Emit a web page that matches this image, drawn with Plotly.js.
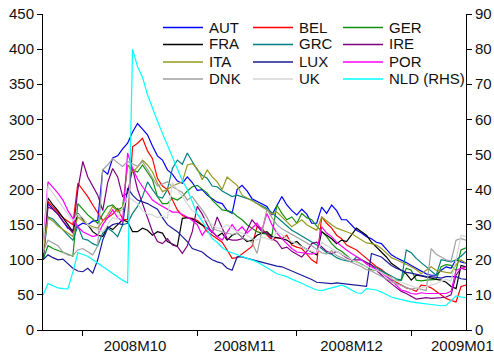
<!DOCTYPE html>
<html>
<head>
<meta charset="utf-8">
<script src="https://cdn.plot.ly/plotly-3.0.1.min.js"></script>
<style>
  html, body { margin: 0; padding: 0; background: #ffffff; }
  #chart { width: 494px; height: 360px; }
</style>
</head>
<body>
<div id="chart"></div>
<script>
// Business-day observations, 19 Sep 2008 to 16 Jan 2009
const dates = [
  "2008-09-19","2008-09-22","2008-09-23","2008-09-24","2008-09-25","2008-09-26","2008-09-29","2008-09-30",
  "2008-10-01","2008-10-02","2008-10-03","2008-10-06","2008-10-07","2008-10-08","2008-10-09","2008-10-10",
  "2008-10-13","2008-10-14","2008-10-15","2008-10-16","2008-10-17","2008-10-20","2008-10-21","2008-10-22",
  "2008-10-23","2008-10-24","2008-10-27","2008-10-28","2008-10-29","2008-10-30","2008-10-31",
  "2008-11-03","2008-11-04","2008-11-05","2008-11-06","2008-11-07","2008-11-10","2008-11-11","2008-11-12",
  "2008-11-13","2008-11-14","2008-11-17","2008-11-18","2008-11-19","2008-11-20","2008-11-21","2008-11-24",
  "2008-11-25","2008-11-26","2008-11-27","2008-11-28",
  "2008-12-01","2008-12-02","2008-12-03","2008-12-04","2008-12-05","2008-12-08","2008-12-09","2008-12-10",
  "2008-12-11","2008-12-12","2008-12-15","2008-12-16","2008-12-17","2008-12-18","2008-12-19","2008-12-22",
  "2008-12-23","2008-12-24","2008-12-25","2008-12-26","2008-12-29","2008-12-30","2008-12-31",
  "2009-01-01","2009-01-02","2009-01-05","2009-01-06","2009-01-07","2009-01-08","2009-01-09","2009-01-12",
  "2009-01-13","2009-01-14","2009-01-15","2009-01-16"
];

// Left-hand scale series
const AUT = [105,180,172,165,155,145,142,148,152,150, 155,156,228,222,245,248,258,266,282,294,
  286,278,262,248,242,228,222,212,209,218, 210,199,200,192,187,182,180,170,166,200,
  206,198,187,183,180,176,164,176,190,178, 170,164,172,165,152,152,175,166,178,170,
  157,157,150,142,138,133,130,125,123,115, 107,103,100,96,92,88,85,80,78,78, 85,90,88,100,97,95];
const BEL = [100,183,175,167,160,155,150,209,200,190, 178,166,156,160,165,173,158,157,261,266,
  273,255,244,216,205,200,185,171,163,160, 159,156,150,140,135,130,125,114,102,103,
  108,113,119,147,145,135,128,132,130,135, 121,118,116,108,100,95,161,152,145,135,
  130,121,117,114,108,102,96,90,86,80, 74,68,64,60,58,55,64,63,60,55, 50,45,42,40,62,64];
const GER = [100,120,116,113,110,107,105,180,172,164, 158,152,165,176,178,171,175,235,228,225,
  235,225,214,190,180,180,188,185,190,198, 204,206,200,195,185,178,171,170,168,162,
  157,150,145,140,138,137,135,178,166,157, 161,152,166,160,157,148,140,133,123,116,
  112,106,100,97,94,90,86,85,84,78, 71,71,71,88,85,71,70,71,71,72, 90,93,92,85,114,117];
const FRA = [110,188,178,170,160,150,140,166,158,150, 140,135,133,147,143,150,157,154,140,140,
  145,142,135,140,138,126,122,119,159,160, 158,154,150,145,140,133,138,128,135,138,
  132,126,128,135,138,140,133,132,130,128, 123,126,119,115,111,107,140,135,130,123,
  128,126,135,145,140,135,125,118,112,104, 95,90,86,80,71,78,77,76,74,72, 71,68,62,59,92,90];
const GRC = [100,161,158,150,143,135,128,148,130,128, 123,120,138,145,140,133,150,152,166,176,
  190,211,200,190,188,200,230,242,236,252, 240,228,220,216,205,204,198,194,190,192,
  190,187,185,180,177,173,167,161,155,148, 142,138,134,130,126,121,116,110,108,103,
  100,99,97,104,100,97,93,88,85,80, 76,73,71,114,110,102,96,90,84,78, 100,98,97,100,105,112];
const IRE = [100,175,172,165,155,146,138,200,240,218, 205,192,170,210,230,218,190,195,230,200,
  180,160,140,126,123,130,121,119,109,120, 140,176,165,150,138,161,145,130,128,128,
  130,142,157,148,140,138,130,126,116,118, 112,108,104,112,123,125,118,112,109,112,
  108,103,100,100,100,96,93,85,78,72, 66,60,55,52,48,44,45,46,45,45, 46,47,50,78,88,86];
const ITA = [110,160,155,148,143,138,133,161,155,150, 147,145,155,164,176,168,172,235,225,232,
  242,235,225,209,197,200,205,208,211,235, 237,230,214,228,218,211,200,218,212,206,
  192,188,185,180,175,171,165,168,161,154, 147,152,157,150,146,142,161,155,150,145,
  143,140,137,133,128,124,123,121,116,110, 103,100,97,93,90,86,80,85,90,85, 83,82,81,93,100,95];
const LUX = [100,107,103,100,101,95,88,84,83,88, 81,100,128,145,150,152,150,202,192,185,
  183,180,176,172,160,150,145,140,133,126, 116,113,111,105,100,97,95,88,85,104,
  104,102,100,98,96,94,93,91,90,87, 84,81,78,76,72,68,67,66,66,67,
  66,65,64,64,63,62,109,106,104,98, 92,88,85,82,81,79,77,76,76,75, 74,76,76,76,73,72];
const POR = [120,211,203,195,185,170,159,147,140,136, 133,135,150,160,171,160,155,252,230,215,
  204,195,185,180,176,172,168,168,165,161, 156,150,135,145,140,133,128,140,150,140,
  147,138,145,152,142,166,150,138,130,123, 116,111,110,108,108,110,147,138,133,125,
  119,114,109,105,100,94,90,86,82,76, 71,64,57,55,52,51,53,52,52,52, 53,52,55,85,88,90];
const DNK = [110,128,124,120,111,107,106,114,116,112, 107,120,228,235,244,238,233,240,236,233,
  240,228,216,205,208,211,204,200,196,185, 190,180,171,160,145,142,140,138,136,138,
  132,128,125,109,142,172,160,150,144,140, 136,133,129,125,120,115,110,108,113,106,
  103,100,97,93,90,86,84,80,76,72, 69,66,63,60,58,60,58,56,116,108, 104,100,98,128,130,128];
const UK = [115,205,195,185,175,165,155,165,160,150, 145,142,140,150,160,158,175,190,185,180,
  170,165,164,160,162,159,210,200,190,180, 170,165,160,156,150,145,145,150,145,140,
  138,135,130,128,132,130,128,140,136,130, 126,122,118,115,112,110,125,120,116,112,
  108,104,100,96,93,90,88,85,82,78, 74,70,68,65,62,60,60,62,64,66, 70,72,70,100,135,133];
// Right-hand scale series
const NLD = [10,13.2,12.6,12,11.8,11.7,16.5,22,21.5,21, 20,19,18,17,16,15,14.2,13.4,80,75,
  72,67,63,59.5,56,52.5,49.5,46,42.5,40, 36.5,33,31,28.5,26,25,23.5,22.5,22,21.5,
  21,20.5,20,19.4,18.6,17.7,16.8,16,15.6,15.2, 14.5,14,13.3,12.6,12,11.4,11.2,11.6,12,12.5,
  12.8,12.2,11.4,10.6,10.4,11.8,11.6,11.4,10.8,10, 9.4,9,8.6,8.2,8,7.8,7.6,7.4,7.2,7,
  6.9,7,8.5,9.7,9.4,9.2];

// Series names and colours, in legend (row-major) order
const names  = ["AUT","BEL","GER","FRA","GRC","IRE","ITA","LUX","POR","DNK","UK","NLD (RHS)"];
const colors = ["#0000ff","#ff0000","#109010","#000000","#008080","#800080",
                "#999922","#1a1a9a","#ff00ff","#a0a0a0","#d6d6d6","#00ffff"];
const values = [AUT,BEL,GER,FRA,GRC,IRE,ITA,LUX,POR,DNK,UK,NLD];

// Month boundaries (tick marks) and month label positions
const monthStarts = ["2008-10-01","2008-11-03","2008-12-01","2009-01-01"];
const monthLabelAt = ["2008-10-15 12:00","2008-11-14 12:00","2008-12-16","2009-01-15 06:00"];
const monthLabels = ["2008M10","2008M11","2008M12","2009M01"];

const FONT = "Liberation Sans, Arial, sans-serif";
const W = 494, H = 360;
const M = {l: 43, r: 28, t: 14, b: 30};
const PW = W - M.l - M.r, PH = H - M.t - M.b;
const px2x = px => (px - M.l) / PW;
const px2y = py => (H - M.b - py) / PH;

const traces = values.map((v, k) => {
  const rhs = names[k].indexOf("RHS") >= 0;
  return {
    type: "scatter", mode: "lines", name: names[k],
    x: dates, y: v,
    xaxis: rhs ? "x2" : "x", yaxis: rhs ? "y2" : "y",
    line: {color: colors[k], width: 1.2},
    hoverinfo: "x+y+name"
  };
});

const xCommon = {
  type: "date",
  range: [dates[0], dates[dates.length - 1]],
  rangebreaks: [{bounds: ["sat", "mon"]}],
  showgrid: false, zeroline: false, fixedrange: true
};

// Legend drawn as a 3-column grid of line samples and labels
const legCols = [163, 253, 343];
const legRows = [27.5, 44.5, 62, 79];
const shapes = [], annotations = [];
names.forEach((n, k) => {
  const c = k % 3, r = Math.floor(k / 3);
  const x0 = legCols[c], yy = legRows[r];
  shapes.push({type: "line", xref: "paper", yref: "paper",
    x0: px2x(x0), x1: px2x(x0 + 40), y0: px2y(yy), y1: px2y(yy),
    line: {color: colors[k], width: 1.5}});
  annotations.push({xref: "paper", yref: "paper", x: px2x(x0 + 44), y: px2y(yy - 0.5),
    xanchor: "left", yanchor: "middle", showarrow: false, text: n,
    font: {family: FONT, size: 15, color: "#111111"}});
});

const layout = {
  width: W, height: H,
  margin: {l: M.l, r: M.r, t: M.t, b: M.b, pad: 0},
  paper_bgcolor: "#ffffff", plot_bgcolor: "#ffffff",
  showlegend: false,
  font: {family: FONT, size: 15, color: "#111111"},
  xaxis: Object.assign({}, xCommon, {
    tickmode: "array", tickvals: monthStarts, showticklabels: false,
    ticks: "outside", ticklen: 5, tickwidth: 1, tickcolor: "#000000",
    showline: true, linecolor: "#000000", linewidth: 1
  }),
  xaxis2: Object.assign({}, xCommon, {
    overlaying: "x", anchor: "y2", side: "bottom",
    tickmode: "array", tickvals: monthLabelAt, ticktext: monthLabels,
    ticks: "", showline: false, ticklabelstandoff: 5,
    ticklabeloverflow: "allow",
    tickfont: {family: FONT, size: 15, color: "#111111"}
  }),
  yaxis: {
    range: [0, 450], tickmode: "linear", tick0: 0, dtick: 50,
    ticks: "outside", ticklen: 5, tickwidth: 1, tickcolor: "#000000",
    showline: true, linecolor: "#000000", linewidth: 1,
    showgrid: false, zeroline: false, fixedrange: true,
    tickfont: {family: FONT, size: 15, color: "#111111"}
  },
  yaxis2: {
    overlaying: "y", side: "right", anchor: "x2",
    range: [0, 90], tickmode: "linear", tick0: 0, dtick: 10,
    ticks: "outside", ticklen: 5, tickwidth: 1, tickcolor: "#000000",
    showline: true, linecolor: "#000000", linewidth: 1,
    showgrid: false, zeroline: false, fixedrange: true,
    tickfont: {family: FONT, size: 15, color: "#111111"}
  },
  shapes: shapes,
  annotations: annotations
};

Plotly.newPlot("chart", traces, layout, {staticPlot: true, displayModeBar: false});
</script>
</body>
</html>
